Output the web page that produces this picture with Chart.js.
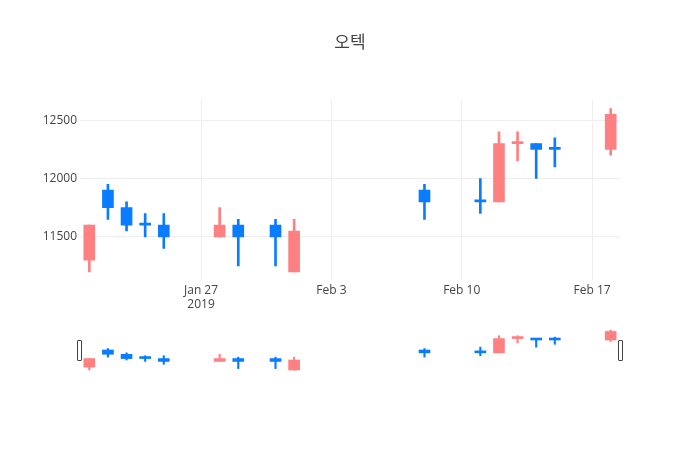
<!DOCTYPE html>
<html>
<head>
<meta charset="utf-8">
<script src="https://cdn.jsdelivr.net/npm/chart.js@4"></script>
<style>
  body { margin: 0; background: #fff; }
  #wrap { position: relative; width: 700px; height: 450px; }
  #mainChart { position: absolute; left: 0; top: 0; }
  #sliderChart { position: absolute; left: 80px; top: 328px; }
  .handle {
    position: absolute; top: 340px; width: 3px; height: 19px;
    border: 1px solid #444; border-radius: 1px; background: #fff;
  }
</style>
</head>
<body>
<div id="wrap">
  <canvas id="mainChart" width="700" height="450"></canvas>
  <canvas id="sliderChart" width="540" height="44"></canvas>
  <div class="handle" style="left:77px"></div>
  <div class="handle" style="left:618px"></div>
</div>
<script>
const dates = [
  "2019-01-21", "2019-01-22", "2019-01-23", "2019-01-24", "2019-01-25",
  "2019-01-28", "2019-01-29", "2019-01-31", "2019-02-01", "2019-02-08",
  "2019-02-11", "2019-02-12", "2019-02-13", "2019-02-14", "2019-02-15",
  "2019-02-18"
];
const opens  = [11300, 11900, 11750, 11600, 11600, 11500, 11600, 11600, 11200, 11900, 11800, 11800, 12300, 12300, 12250, 12250];
const highs  = [11600, 11950, 11800, 11700, 11700, 11750, 11650, 11650, 11650, 11950, 12000, 12400, 12400, 12300, 12350, 12600];
const lows   = [11200, 11650, 11550, 11500, 11400, 11500, 11250, 11250, 11200, 11650, 11700, 11800, 12150, 12000, 12100, 12200];
const closes = [11600, 11750, 11600, 11600, 11500, 11600, 11500, 11500, 11550, 11800, 11800, 12300, 12300, 12250, 12250, 12550];

const xTickDates = ["2019-01-27", "2019-02-03", "2019-02-10", "2019-02-17"];
const xTickLabels = [["Jan 27", "2019"], "Feb 3", "Feb 10", "Feb 17"];
const yTicks = [11500, 12000, 12500];

const UP = "#ff8080";
const DOWN = "#0a7cff";
const FONT = '"Open Sans", "Noto Sans CJK KR", sans-serif';

document.addEventListener("DOMContentLoaded", () => {
  const toDay = s => {
    const [y, m, d] = s.split("-").map(Number);
    return Date.UTC(y, m - 1, d) / 86400000;
  };
  const days = dates.map(toDay);
  const tickDays = xTickDates.map(toDay);

  // plotly style direction: equal open/close follows previous close, then previous direction
  const colors = [];
  let prevDir = 1;
  closes.forEach((c, i) => {
    const o = opens[i];
    let dir;
    if (c > o) dir = 1;
    else if (c < o) dir = -1;
    else if (i > 0 && c > closes[i - 1]) dir = 1;
    else if (i > 0 && c < closes[i - 1]) dir = -1;
    else dir = prevDir;
    prevDir = dir;
    colors.push(dir > 0 ? UP : DOWN);
  });

  const xMin = days[0] - 0.5;
  const xMax = days[days.length - 1] + 0.5;
  const yMin = 11130, yMax = 12670;

  function candleSets(bodyW, wickW) {
    return [
      {
        data: days.map((d, i) => ({ x: d, y: [lows[i], highs[i]] })),
        backgroundColor: colors,
        barThickness: wickW,
        grouped: false,
        order: 2
      },
      {
        data: days.map((d, i) => ({ x: d, y: [opens[i], closes[i]] })),
        backgroundColor: colors,
        barThickness: bodyW,
        minBarLength: 2,
        grouped: false,
        order: 1
      }
    ];
  }

  new Chart(document.getElementById("mainChart"), {
    type: "bar",
    data: { datasets: candleSets(11, 2) },
    options: {
      responsive: false,
      animation: false,
      layout: { padding: 0 },
      plugins: {
        legend: { display: false },
        tooltip: { enabled: false },
        title: {
          display: true,
          text: "오텍",
          color: "#444",
          font: { family: FONT, size: 17, weight: "normal" },
          padding: { top: 33, bottom: 47 }
        }
      },
      scales: {
        x: {
          type: "linear",
          min: xMin,
          max: xMax,
          offset: false,
          afterFit: s => { s.height = 170; },
          afterBuildTicks: s => { s.ticks = tickDays.map(v => ({ value: v })); },
          ticks: {
            color: "#444",
            font: { family: FONT, size: 12 },
            padding: 3,
            maxRotation: 0,
            callback: (v, i) => xTickLabels[i]
          },
          grid: { color: "#eee", drawTicks: false, offset: false },
          border: { display: false }
        },
        y: {
          min: yMin,
          max: yMax,
          afterFit: s => { s.width = 80; },
          afterBuildTicks: s => { s.ticks = yTicks.map(v => ({ value: v })); },
          ticks: {
            color: "#444",
            font: { family: FONT, size: 12 },
            padding: 3,
            callback: v => String(v)
          },
          grid: { color: "#eee", drawTicks: false },
          border: { display: false }
        },
        // empty right axis just to keep the right margin (so the title stays centred)
        yRight: {
          position: "right",
          min: yMin,
          max: yMax,
          afterFit: s => { s.width = 80; },
          ticks: { display: false },
          grid: { display: false },
          border: { display: false }
        }
      }
    }
  });

  // range slider preview
  new Chart(document.getElementById("sliderChart"), {
    type: "bar",
    data: { datasets: candleSets(11, 1.5) },
    options: {
      responsive: false,
      animation: false,
      layout: { padding: 0 },
      plugins: { legend: { display: false }, tooltip: { enabled: false } },
      scales: {
        x: { type: "linear", min: xMin, max: xMax, offset: false, display: false },
        y: { min: yMin, max: yMax, display: false }
      }
    }
  });
});
</script>
</body>
</html>
